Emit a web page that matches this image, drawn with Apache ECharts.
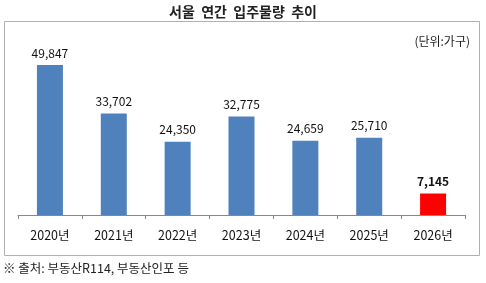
<!DOCTYPE html>
<html>
<head>
<meta charset="utf-8">
<script src="https://cdn.jsdelivr.net/npm/echarts@6/dist/echarts.min.js"></script>
<style>
  html, body { margin: 0; padding: 0; background: #fff; }
  #main { width: 486px; height: 283px; }
</style>
</head>
<body>
<div id="main"></div>
<script>
const years = ['2020년', '2021년', '2022년', '2023년', '2024년', '2025년', '2026년'];
const supply = [49847, 33702, 24350, 32775, 24659, 25710, 7145];
const barColors = ['#4f81bd', '#4f81bd', '#4f81bd', '#4f81bd', '#4f81bd', '#4f81bd', '#ff0000'];

const font = '"Noto Sans CJK KR", "Noto Sans", sans-serif';

const chart = echarts.init(document.getElementById('main'));

const option = {
  backgroundColor: '#fff',
  animation: false,
  textStyle: { fontFamily: font },
  title: {
    text: '서울  연간  입주물량  추이',
    left: 'center',
    top: 0,
    textStyle: { fontFamily: font, fontSize: 14, fontWeight: 'bold', color: '#222' }
  },
  grid: { left: 18, right: 21, top: 34.5, bottom: 68 },
  xAxis: {
    type: 'category',
    data: years,
    axisLine: { lineStyle: { color: '#888', width: 1 } },
    axisTick: { show: true, length: 4, lineStyle: { color: '#888' } },
    axisLabel: { color: '#111', fontSize: 12.5, margin: 14, fontFamily: font }
  },
  yAxis: {
    type: 'value',
    min: 0,
    max: 60000,
    show: false
  },
  series: [{
    type: 'bar',
    barWidth: 26,
    data: supply.map((v, i) => ({
      value: v,
      itemStyle: { color: barColors[i] },
      label: i === supply.length - 1 ? { fontWeight: 'bold' } : {}
    })),
    label: {
      show: true,
      position: 'top',
      distance: 6,
      color: '#111',
      fontSize: 12,
      fontFamily: font,
      formatter: p => p.value.toLocaleString('en-US')
    }
  }],
  graphic: [
    {
      type: 'rect',
      shape: { x: 4.5, y: 21.5, width: 475, height: 234 },
      style: { fill: 'none', stroke: '#b0b0b0', lineWidth: 1 },
      z: -1
    },
    {
      type: 'text',
      right: 16,
      top: 35,
      style: { text: '(단위:가구)', fill: '#222', font: '12px ' + font }
    },
    {
      type: 'text',
      left: 3,
      top: 262,
      style: { text: '※ 출처: 부동산R114, 부동산인포 등', fill: '#222', font: '12.5px ' + font }
    }
  ]
};

chart.setOption(option);
</script>
</body>
</html>
